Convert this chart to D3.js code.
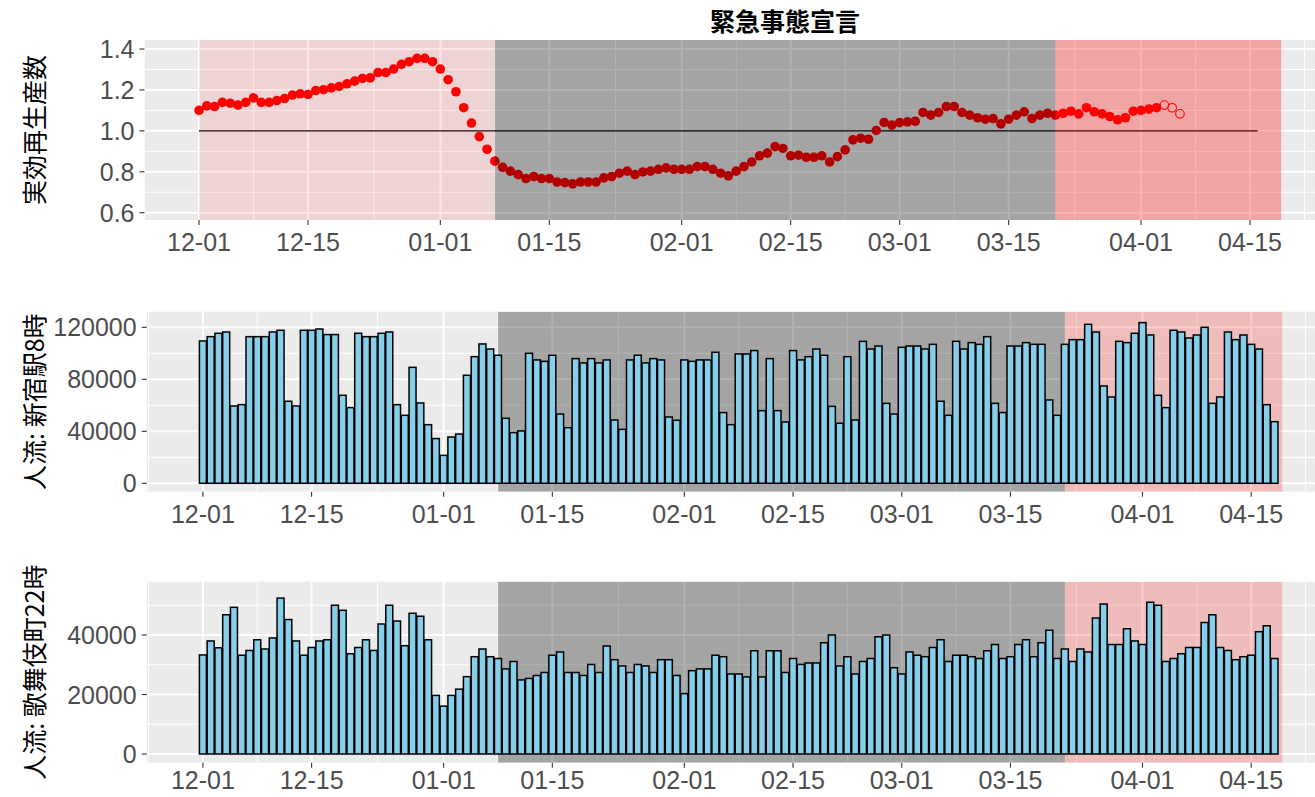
<!DOCTYPE html>
<html><head><meta charset="utf-8">
<script src="https://cdn.jsdelivr.net/npm/d3@7"></script>
<style>body{margin:0;background:#fff}</style>
</head><body>
<svg id="chart" width="1315" height="797"></svg>
<script>
// ---------------- data ----------------
const startDate = "2020-12-01";
const titleText = "緊急事態宣言";
const yTitles = ["実効再生産数", "人流: 新宿駅8時", "人流: 歌舞伎町22時"];

// effective reproduction number, daily from 2020-12-01 to 2021-04-03
const rtValues = [
  1.100,1.122,1.119,1.139,1.135,1.126,1.139,1.161,1.139,1.139,
  1.148,1.158,1.175,1.181,1.178,1.197,1.201,1.210,1.217,1.230,
  1.243,1.256,1.259,1.285,1.285,1.302,1.325,1.338,1.354,1.354,1.338,
  1.302,1.250,1.191,1.113,1.038,0.972,0.910,0.852,0.822,0.803,
  0.786,0.767,0.777,0.767,0.767,0.750,0.747,0.741,0.750,0.750,
  0.750,0.770,0.777,0.793,0.803,0.786,0.799,0.803,0.812,0.819,0.812,
  0.812,0.812,0.825,0.825,0.812,0.793,0.780,0.803,0.825,0.848,
  0.878,0.891,0.923,0.914,0.878,0.881,0.871,0.871,0.878,0.848,
  0.874,0.907,0.956,0.964,0.959,1.002,1.041,1.028,
  1.040,1.044,1.047,1.090,1.077,1.090,1.119,1.119,1.090,1.077,
  1.064,1.057,1.060,1.034,1.057,1.077,1.093,1.060,1.077,1.086,
  1.077,1.086,1.096,1.083,1.113,1.093,1.083,1.070,1.054,1.064,1.096,
  1.100,1.106,1.113
];
// provisional estimates (open circles), 2021-04-04 .. 2021-04-06
const rtProvisional = [1.126,1.113,1.083];

// people flow, Shinjuku station 8:00, daily 2020-12-01 .. 2021-04-18
const shinjuku8 = [
  109500,112800,115400,116400,59500,60500,112800,112800,112800,116400,
  117700,63100,59500,117700,117700,118700,114400,114400,67700,58200,
  115400,112800,112800,115400,116400,60500,52300,89200,61800,45100,34400,
  21500,35600,37900,83100,97400,107200,103300,98500,50000,39000,
  40300,100000,94900,93800,98500,53300,42800,95900,92600,95900,
  92600,94900,48700,41500,94900,98500,92600,95900,94900,51000,48500,
  94900,93800,94900,94900,100800,54400,45100,99500,99500,102100,
  55900,95900,55900,47200,102100,94900,97400,103300,98500,59200,
  46200,97400,48700,109200,103300,105600,61500,53300,
  104600,105600,105600,103300,106900,63100,52300,109200,103300,108200,
  106900,112800,61500,54400,105600,105600,108200,106900,106900,64100,
  52300,106900,110500,110500,122300,116400,74900,66400,109200,108200,115400,
  123600,114100,67700,58200,117700,116400,111800,114100,120000,61500,
  66400,116400,110500,114100,106900,103300,60500,47400
];
// people flow, Kabukicho 22:00, daily 2020-12-01 .. 2021-04-18
const kabukicho22 = [
  33300,38000,35700,46800,49300,33200,34800,38400,35300,39000,
  52400,45200,38000,33200,35800,38000,38400,50000,48300,33700,
  35800,38400,34800,43700,50000,44700,36400,47300,46300,38400,19700,
  16100,19700,21800,26000,32700,35300,32700,32100,28600,31100,
  24900,25400,26400,27400,33200,34300,27400,27400,26400,30100,
  27400,36300,31700,29600,27400,30100,29600,27400,31700,31700,26400,
  20300,28000,28600,28600,33200,32700,26900,26900,25900,34700,
  25900,34700,34700,27400,32100,30100,30600,30600,37400,40000,
  29600,32700,26900,31100,32100,39400,40000,29000,
  26900,34300,33200,32700,35800,38400,31100,33200,33200,32700,
  32100,34700,36800,32100,32700,36800,38400,32700,37400,41600,
  32100,35300,31100,35300,34300,45700,50400,36800,36800,42100,38000,
  36800,51000,50000,31100,32100,33700,35800,35800,44200,46800,
  35800,34800,31700,32700,33200,41100,43100,32100
];

const xTickDates  = ["2020-12-01","2020-12-15","2021-01-01","2021-01-15","2021-02-01","2021-02-15","2021-03-01","2021-03-15","2021-04-01","2021-04-15"];
const xTickLabels = ["12-01","12-15","01-01","01-15","02-01","02-15","03-01","03-15","04-01","04-15"];
const xMinorEdgeDates = ["2020-11-24","2021-04-22"];
const rtTicks = [0.6,0.8,1.0,1.2,1.4];
const rtMinor = [0.7,0.9,1.1,1.3];
const shinjukuTicks = [0,40000,80000,120000];
const shinjukuMinor = [20000,60000,100000];
const kabukiTicks = [0,20000,40000];
const kabukiMinor = [10000,30000,50000];

const rtReference = 1.0;
const rtReferenceRange = ["2020-12-01","2021-04-16"];
// shaded periods
const topPeriods = [
  {key:"before", start:"2020-12-01", end:"2021-01-08"},
  {key:"emergency", start:"2021-01-08", end:"2021-03-21"},
  {key:"after", start:"2021-03-21", end:"2021-04-19"}
];
const flowPeriods = [
  {key:"emergency", start:"2021-01-08", end:"2021-03-22"},
  {key:"after", start:"2021-03-22", end:"2021-04-19"}
];

// ---------------- drawing ----------------
const parse = d3.utcParse("%Y-%m-%d");
const d0 = parse(startDate);
const dayAt = i => d3.utcDay.offset(d0, i);
const svg = d3.select("#chart");
const W = 1315;
const tickFont = "'Liberation Sans', Arial, sans-serif";
const cjkFont = "'Noto Sans CJK JP', 'Noto Sans', sans-serif";
const tickSize = 25;

const periodStyle = {
  top: {before:{fill:"#ff0000", op:0.1}, emergency:{fill:"#000000", op:0.3}, after:{fill:"#ff0000", op:0.3}},
  flow: {emergency:{fill:"#000000", op:0.3}, after:{fill:"#ff0000", op:0.2}}
};

const domainX = [parse("2020-12-01"), parse("2021-04-15")];
const xTop = d3.scaleUtc().domain(domainX).range([199, 1250]);
const xBar = d3.scaleUtc().domain(domainX).range([202.9, 1251.2]);

const panels = [
  {id:"p0", left:144.5, top:40, bottom:220, labelY:251, x:xTop,
   y:d3.scaleLinear().domain([0.6,1.4]).range([212.7,49]), ticks:rtTicks, minor:rtMinor, fmt:d3.format(".1f")},
  {id:"p1", left:146.7, top:311.7, bottom:491.7, labelY:522.5, x:xBar,
   y:d3.scaleLinear().domain([0,120000]).range([483.3,327.3]), ticks:shinjukuTicks, minor:shinjukuMinor, fmt:d3.format("d")},
  {id:"p2", left:146.7, top:581.7, bottom:762.7, labelY:789, x:xBar,
   y:d3.scaleLinear().domain([0,40000]).range([754,635]), ticks:kabukiTicks, minor:kabukiMinor, fmt:d3.format("d")}
];

const defs = svg.append("defs");
const tickDates = xTickDates.map(parse);
const minorDates = [];
for (let i = 0; i < tickDates.length - 1; i++) {
  minorDates.push(new Date((tickDates[i].getTime() + tickDates[i+1].getTime()) / 2));
}
xMinorEdgeDates.forEach(s => minorDates.push(parse(s)));

function frame(p, idx) {
  defs.append("clipPath").attr("id", "clip" + p.id)
    .append("rect").attr("x", p.left).attr("y", p.top)
    .attr("width", W - p.left).attr("height", p.bottom - p.top);
  const g = svg.append("g");
  g.append("rect").attr("x", p.left).attr("y", p.top)
    .attr("width", W - p.left).attr("height", p.bottom - p.top).attr("fill", "#EBEBEB");
  const grid = g.append("g").attr("clip-path", `url(#clip${p.id})`);
  grid.selectAll("line.hmin").data(p.minor).join("line")
    .attr("x1", p.left).attr("x2", W).attr("y1", d => p.y(d)).attr("y2", d => p.y(d))
    .attr("stroke", "#fff").attr("stroke-width", 1);
  grid.selectAll("line.vmin").data(minorDates).join("line")
    .attr("y1", p.top).attr("y2", p.bottom).attr("x1", d => p.x(d)).attr("x2", d => p.x(d))
    .attr("stroke", "#fff").attr("stroke-width", 1);
  grid.selectAll("line.hmaj").data(p.ticks).join("line")
    .attr("x1", p.left).attr("x2", W).attr("y1", d => p.y(d)).attr("y2", d => p.y(d))
    .attr("stroke", "#fff").attr("stroke-width", 2);
  grid.selectAll("line.vmaj").data(tickDates).join("line")
    .attr("y1", p.top).attr("y2", p.bottom).attr("x1", d => p.x(d)).attr("x2", d => p.x(d))
    .attr("stroke", "#fff").attr("stroke-width", 2);

  // y axis
  const ya = svg.append("g");
  ya.selectAll("line").data(p.ticks).join("line")
    .attr("x1", p.left - 5).attr("x2", p.left).attr("y1", d => p.y(d)).attr("y2", d => p.y(d))
    .attr("stroke", "#333").attr("stroke-width", 1.1);
  ya.selectAll("text").data(p.ticks).join("text")
    .attr("x", p.left - 10).attr("y", d => p.y(d)).attr("dy", "0.36em")
    .attr("text-anchor", "end").attr("font-family", tickFont).attr("font-size", tickSize)
    .attr("fill", "#4D4D4D").text(d => p.fmt(d));
  // x axis
  const xa = svg.append("g");
  xa.selectAll("line").data(tickDates).join("line")
    .attr("x1", d => p.x(d)).attr("x2", d => p.x(d)).attr("y1", p.bottom).attr("y2", p.bottom + 5)
    .attr("stroke", "#333").attr("stroke-width", 1.1);
  xa.selectAll("text").data(tickDates).join("text")
    .attr("x", d => p.x(d)).attr("y", p.labelY)
    .attr("text-anchor", "middle").attr("font-family", tickFont).attr("font-size", tickSize)
    .attr("fill", "#4D4D4D").text((d, i) => xTickLabels[i]);
  // y title
  const cy = (p.top + p.bottom) / 2;
  svg.append("text").attr("transform", `translate(33,${cy}) rotate(-90)`)
    .attr("text-anchor", "middle").attr("dominant-baseline", "central")
    .attr("font-family", cjkFont).attr("font-size", 25).attr("fill", "#000")
    .text(yTitles[idx]);
  return g.append("g").attr("clip-path", `url(#clip${p.id})`);
}

// ---- top panel ----
const pt = panels[0];
const gt = frame(pt, 0);
gt.append("line")
  .attr("x1", xTop(parse(rtReferenceRange[0]))).attr("x2", xTop(parse(rtReferenceRange[1])))
  .attr("y1", pt.y(rtReference)).attr("y2", pt.y(rtReference))
  .attr("stroke", "#000").attr("stroke-width", 1.3);
gt.selectAll("circle.rt").data(rtValues).join("circle")
  .attr("cx", (d, i) => xTop(dayAt(i))).attr("cy", d => pt.y(d)).attr("r", 4.8)
  .attr("fill", "#FF0000");
gt.selectAll("circle.prov").data(rtProvisional).join("circle")
  .attr("cx", (d, i) => xTop(dayAt(rtValues.length + i))).attr("cy", d => pt.y(d)).attr("r", 4.3)
  .attr("fill", "none").attr("stroke", "#FF0000").attr("stroke-width", 1.1);
gt.selectAll("rect.period").data(topPeriods).join("rect")
  .attr("x", d => xTop(parse(d.start))).attr("width", d => xTop(parse(d.end)) - xTop(parse(d.start)))
  .attr("y", pt.top).attr("height", pt.bottom - pt.top)
  .attr("fill", d => periodStyle.top[d.key].fill).attr("fill-opacity", d => periodStyle.top[d.key].op);

// ---- bar panels ----
function barPanel(p, idx, values) {
  const g = frame(p, idx);
  g.selectAll("rect.period").data(flowPeriods).join("rect")
    .attr("x", d => p.x(parse(d.start))).attr("width", d => p.x(parse(d.end)) - p.x(parse(d.start)))
    .attr("y", p.top).attr("height", p.bottom - p.top)
    .attr("fill", d => periodStyle.flow[d.key].fill).attr("fill-opacity", d => periodStyle.flow[d.key].op);
  const dayW = p.x(dayAt(1)) - p.x(dayAt(0));
  const bw = dayW * 0.9;
  g.selectAll("rect.bar").data(values).join("rect")
    .attr("x", (d, i) => p.x(dayAt(i)) - bw / 2).attr("width", bw)
    .attr("y", d => p.y(d)).attr("height", d => p.y(0) - p.y(d))
    .attr("fill", "#87CEEB").attr("stroke", "#000").attr("stroke-width", 1.5);
}
barPanel(panels[1], 1, shinjuku8);
barPanel(panels[2], 2, kabukicho22);

// title
svg.append("text").attr("x", 785).attr("y", 31).attr("text-anchor", "middle")
  .attr("font-family", cjkFont).attr("font-weight", "bold").attr("font-size", 25)
  .attr("fill", "#000").text(titleText);
</script>
</body></html>
